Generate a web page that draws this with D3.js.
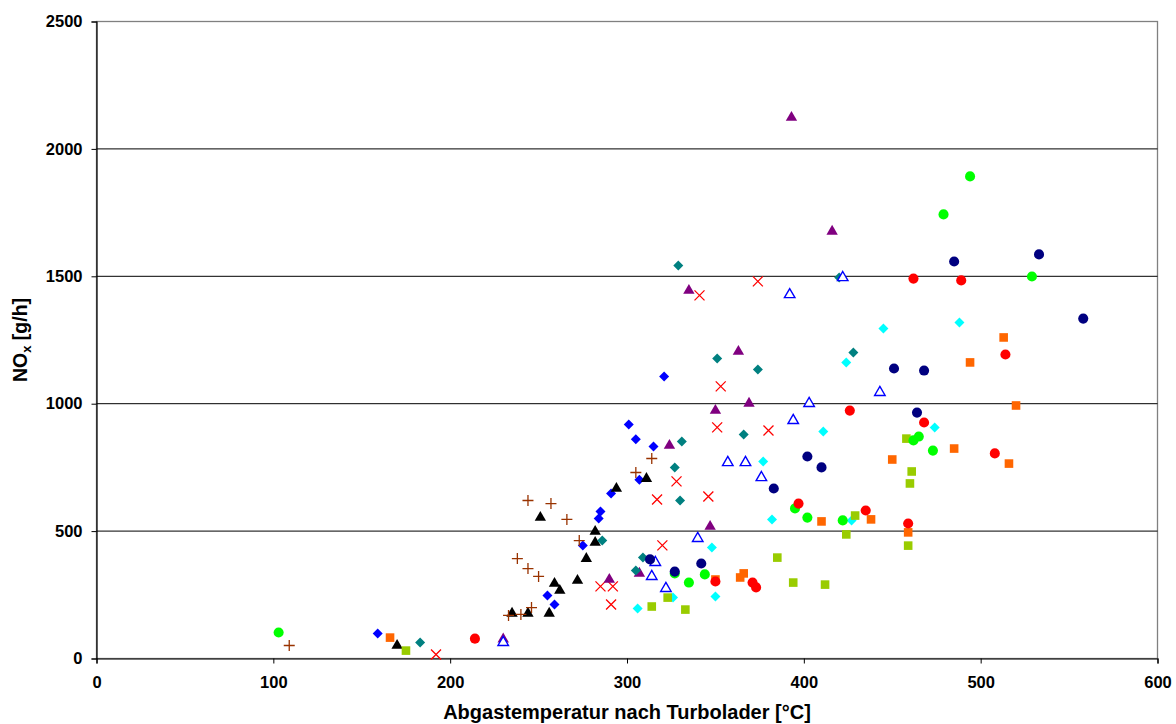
<!DOCTYPE html>
<html><head><meta charset="utf-8">
<script src="https://cdn.jsdelivr.net/npm/d3@7"></script>
<style>
html,body{margin:0;padding:0;background:#fff;}
svg{display:block;font-family:"Liberation Sans",Arial,sans-serif;}
</style></head>
<body>
<svg id="chart" width="1176" height="724"></svg>
<script>
// ---- data ----
const xTicks = [0,100,200,300,400,500,600];
const yTicks = [0,500,1000,1500,2000,2500];
const xTitle = "Abgastemperatur nach Turbolader [°C]";

const blueDiamondX = [159,255,259,275,284,285,291,307,301,305,315,321];
const blueDiamondY = [98,247,212,443,549,577,648,702,918,860,832,1107];

const blackTriX = [170,235,244,256,259,262,272,277,282,282,251,294,311];
const blackTriY = [55,181,181,181,298,271,310,396,459,502,557,671,710];

const plusX = [109,233,240,246,238,244,250,244,257,266,273,305,314];
const plusY = [51,169,173,200,392,353,322,620,608,546,463,730,785];

const crossX = [192,285,292,291,320,317,328,346,351,380,353,341,374];
const crossY = [16,283,283,212,444,624,695,636,907,895,1068,1425,1480];

const purpleTriX = [230,290,307,324,347,350,369,363,335,393,416];
const purpleTriY = [80,314,338,840,522,977,1005,1209,1448,2127,1680];

const tealDiamondX = [183,286,305,309,330,327,331,329,351,366,374,428,420];
const tealDiamondY = [63,463,345,396,620,750,852,1542,1177,879,1134,1201,1495];

const openTriX = [230,314,316,322,340,357,367,376,394,403,443,392,422];
const openTriY = [67,326,381,279,475,773,773,714,938,1005,1048,1432,1499];

const cyanDiamondX = [306,326,350,348,377,382,427,411,424,445,488,474];
const cyanDiamondY = [196,239,243,436,773,546,542,891,1162,1295,1319,907];

const limeSquareX = [175,314,323,333,385,394,412,424,429,458,461,460,459];
const limeSquareY = [31,204,239,192,396,298,290,487,561,863,734,687,443];

const orangeSquareX = [166,350,364,366,410,438,459,450,485,516,520,494,513];
const orangeSquareY = [82,310,318,334,538,546,495,781,824,765,993,1162,1260];

const greenCircleX = [103,327,335,344,395,402,422,462,465,473,529,494,479];
const greenCircleY = [102,334,298,330,589,553,542,856,871,816,1499,1892,1743];

const navyCircleX = [313,327,342,383,402,410,464,451,468,485,533,558];
const navyCircleY = [389,341,373,667,793,750,965,1138,1130,1558,1586,1334];

const redCircleX = [214,350,371,373,397,435,459,426,468,508,514,462,489];
const redCircleY = [78,302,298,279,608,581,530,973,926,805,1193,1491,1484];

// series table: [x array, y array, marker, colour]
const seriesList = [
  [blueDiamondX, blueDiamondY, "diamond", "#0000FF"],
  [blackTriX, blackTriY, "triangle", "#000000"],
  [plusX, plusY, "plus", "#993300"],
  [crossX, crossY, "cross", "#FF0000"],
  [purpleTriX, purpleTriY, "triangle", "#800080"],
  [tealDiamondX, tealDiamondY, "diamond", "#008080"],
  [openTriX, openTriY, "openTriangle", "#0000FF"],
  [cyanDiamondX, cyanDiamondY, "diamond", "#00FFFF"],
  [limeSquareX, limeSquareY, "square", "#99CC00"],
  [orangeSquareX, orangeSquareY, "square", "#FF6600"],
  [greenCircleX, greenCircleY, "circle", "#00FF00"],
  [navyCircleX, navyCircleY, "circle", "#000080"],
  [redCircleX, redCircleY, "circle", "#FF0000"]
];

// ---- drawing ----
const svg = d3.select("#chart");
const x = d3.scaleLinear().domain([0,600]).range([96.5,1157.5]);
const y = d3.scaleLinear().domain([0,2500]).range([658.5,21.5]);

// plot border (grey)
svg.append("rect").attr("x",x(0)).attr("y",y(2500))
  .attr("width",x(600)-x(0)).attr("height",y(0)-y(2500))
  .attr("fill","none").attr("stroke","#808080").attr("stroke-width",1.3);

// gridlines
svg.append("g").selectAll("line").data(yTicks.filter(d=>d>0 && d<2500)).join("line")
  .attr("x1",x(0)).attr("x2",x(600)).attr("y1",d=>y(d)).attr("y2",d=>y(d))
  .attr("stroke","#000").attr("stroke-width",1);

// axes
const font = "'Liberation Sans',Arial,sans-serif";
const yAxis = svg.append("g").attr("transform",`translate(${x(0)},0)`)
  .call(d3.axisLeft(y).tickValues(yTicks).tickSize(5).tickPadding(9).tickFormat(d3.format("d")));
const xAxis = svg.append("g").attr("transform",`translate(0,${y(0)})`)
  .call(d3.axisBottom(x).tickValues(xTicks).tickSize(5).tickPadding(13).tickFormat(d3.format("d")));
[xAxis,yAxis].forEach(a=>{
  a.select(".domain").attr("stroke","#000").attr("stroke-width",1.2);
  a.selectAll(".tick line").attr("stroke","#000").attr("stroke-width",1);
  a.selectAll(".tick text").attr("fill","#000").attr("font-size",16.5).attr("font-weight","bold").attr("font-family",font);
});

// axis titles
svg.append("text").attr("x",(x(0)+x(600))/2).attr("y",719)
  .attr("text-anchor","middle").attr("font-size",20).attr("font-weight","bold")
  .attr("font-family",font).text(xTitle);
const yt = svg.append("text").attr("transform","translate(27,340) rotate(-90)")
  .attr("text-anchor","middle").attr("font-size",19.5).attr("font-weight","bold")
  .attr("font-family",font);
yt.append("tspan").text("NO");
yt.append("tspan").attr("font-size",13).attr("dy",4).text("x");
yt.append("tspan").attr("dy",-4).text(" [g/h]");

// markers
const sym = {
  diamond: d3.symbol(d3.symbolSquare, 50)(),
  triangle: d3.symbol(d3.symbolTriangle, 56)(),
  openTriangle: d3.symbol(d3.symbolTriangle, 48)(),
  square: d3.symbol(d3.symbolSquare, 74)(),
  circle: d3.symbol(d3.symbolCircle, 80)()
};
seriesList.forEach(([xs,ys,marker,color])=>{
  const pts = xs.map((v,i)=>[v,ys[i]]);
  const g = svg.append("g");
  const sel = g.selectAll("g").data(pts).join("g")
    .attr("transform",d=>`translate(${x(d[0])},${y(d[1])})`);
  if(marker==="plus"){
    sel.append("path").attr("d","M-5.5,0H5.5M0,-5.5V5.5").attr("stroke",color).attr("stroke-width",1.3).attr("fill","none");
  } else if(marker==="cross"){
    sel.append("path").attr("d","M-5,-5L5,5M-5,5L5,-5").attr("stroke",color).attr("stroke-width",1.3).attr("fill","none");
  } else if(marker==="diamond"){
    sel.append("path").attr("d",sym.diamond).attr("transform","rotate(45)").attr("fill",color);
  } else if(marker==="openTriangle"){
    sel.append("path").attr("d",sym.openTriangle).attr("transform","translate(0,1)").attr("fill","#fff").attr("stroke",color).attr("stroke-width",1.4);
  } else if(marker==="triangle"){
    sel.append("path").attr("d",sym.triangle).attr("transform","translate(0,1)").attr("fill",color);
  } else {
    sel.append("path").attr("d",sym[marker]).attr("fill",color);
  }
});
</script>
</body></html>
